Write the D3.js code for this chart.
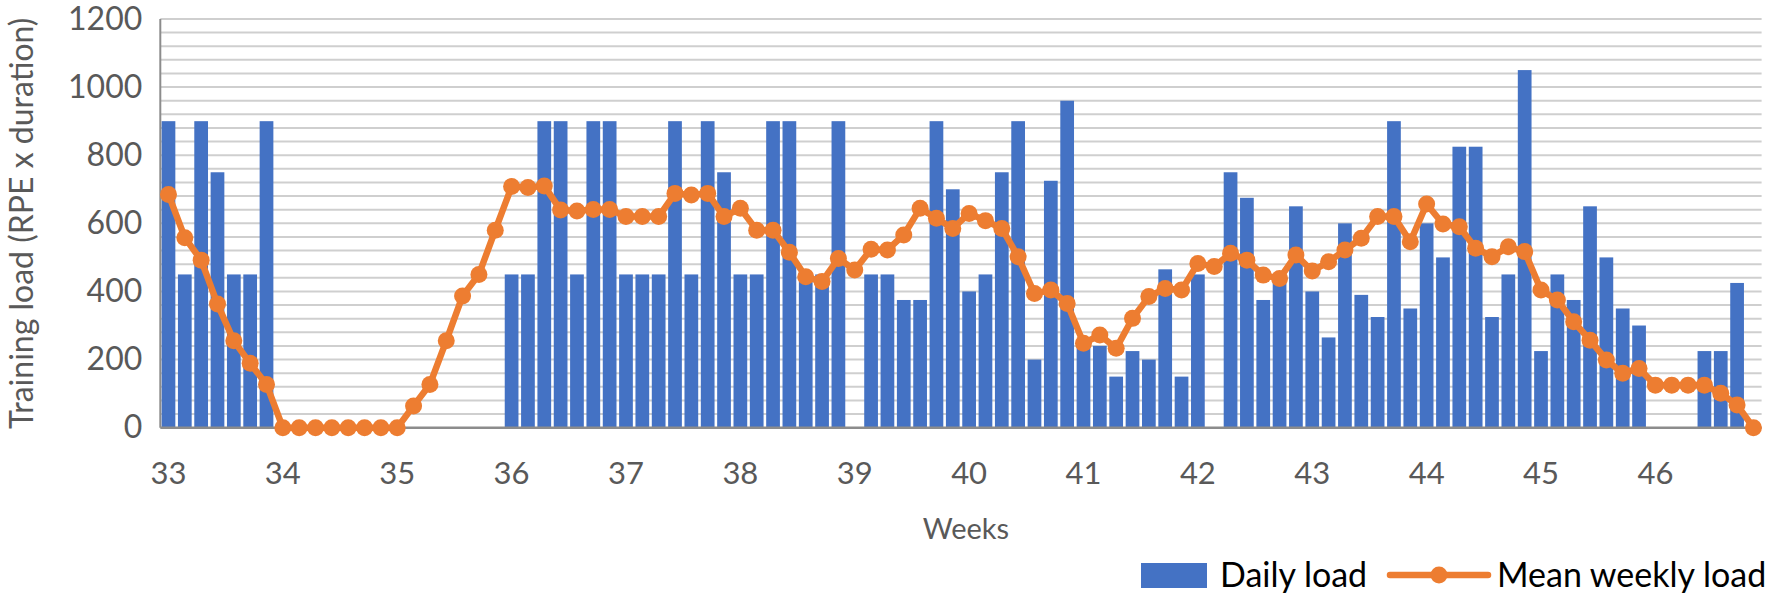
<!DOCTYPE html>
<html>
<head>
<meta charset="utf-8">
<script src="https://cdn.jsdelivr.net/npm/d3@7"></script>
<style>
  html, body { margin: 0; padding: 0; background: #fff; }
  svg { display: block; }
  text { font-family: Lato, "Open Sans", sans-serif; }
</style>
</head>
<body>
<svg id="chart" width="1772" height="600"></svg>
<script>
// ---- data ----
const weekLabels = ["33","34","35","36","37","38","39","40","41","42","43","44","45","46"];
const yTicks = [0, 200, 400, 600, 800, 1000, 1200];

// Daily load, one value per day (7 per week), 0 = no session
const dailyLoad = [
  900, 450, 900, 750, 450, 450, 900,      // wk 33
  0, 0, 0, 0, 0, 0, 0,                    // wk 34
  0, 0, 0, 0, 0, 0, 0,                    // wk 35
  450, 450, 900, 900, 450, 900, 900,      // wk 36
  450, 450, 450, 900, 450, 900, 750,      // wk 37
  450, 450, 900, 900, 450, 450, 900,      // wk 38
  0, 450, 450, 375, 375, 900, 700,        // wk 39
  400, 450, 750, 900, 200, 725, 960,      // wk 40
  240, 240, 150, 225, 200, 465, 150,      // wk 41
  450, 0, 750, 675, 375, 440, 650,        // wk 42
  400, 265, 600, 390, 325, 900, 350,      // wk 43
  600, 500, 825, 825, 325, 450, 1050,     // wk 44
  225, 450, 375, 650, 500, 350, 300,      // wk 45
  0, 0, 0, 225, 225, 425, 0               // wk 46
];

// Mean weekly load (rolling), one value per day
const meanWeeklyLoad = [
  685, 558, 492, 363, 255, 189, 127,
  0, 0, 0, 0, 0, 0, 0,
  0, 64, 127, 255, 387, 450, 580,
  708, 705, 710, 639, 636, 641, 641,
  620, 620, 620, 688, 683, 688, 620,
  644, 580, 580, 515, 443, 429, 497,
  463, 524, 522, 566, 644, 615, 585,
  629, 608, 585, 502, 394, 404, 365,
  248, 272, 233, 321, 385, 409, 404,
  482, 473, 512, 492, 448, 438, 507,
  460, 487, 522, 556, 620, 620, 546,
  657, 598, 590, 527, 502, 531, 517,
  404, 375, 311, 257, 199, 160, 174,
  125, 125, 125, 125, 101, 67, 0
];

const seriesNames = ["Daily load", "Mean weekly load"];

// ---- layout ----
const svg = d3.select("#chart");
const plot = { left: 160.3, right: 1761.6, top: 19, bottom: 427.7 };
const BLUE = "#4472C4", ORANGE = "#ED7D31", TEXT = "#595959";

const days = d3.range(dailyLoad.length);

const x = d3.scaleBand()
  .domain(days)
  .range([plot.left, plot.right])
  .paddingInner(0.16)
  .paddingOuter(0.08);

const y = d3.scaleLinear().domain([0, 1200]).range([plot.bottom, plot.top]);

// gridlines every 40
const grid = svg.append("g");
grid.selectAll("line")
  .data(d3.range(40, 1201, 40))
  .join("line")
  .attr("x1", plot.left).attr("x2", plot.right)
  .attr("y1", d => y(d)).attr("y2", d => y(d))
  .attr("stroke", "#cfcfcf").attr("stroke-width", 2);

// bars
svg.append("g").selectAll("rect")
  .data(days.filter(i => dailyLoad[i] > 0))
  .join("rect")
  .attr("x", i => x(i))
  .attr("width", x.bandwidth())
  .attr("y", i => y(dailyLoad[i]))
  .attr("height", i => y(0) - y(dailyLoad[i]))
  .attr("fill", BLUE);

// axes lines
svg.append("line")
  .attr("x1", plot.left).attr("x2", plot.left)
  .attr("y1", plot.top).attr("y2", plot.bottom)
  .attr("stroke", "#8c8c8c").attr("stroke-width", 2);
svg.append("line")
  .attr("x1", plot.left).attr("x2", plot.right)
  .attr("y1", plot.bottom).attr("y2", plot.bottom)
  .attr("stroke", "#8c8c8c").attr("stroke-width", 2.5);

// line + markers
const cx = i => x(i) + x.bandwidth() / 2;
const line = d3.line().x(i => cx(i)).y(i => y(meanWeeklyLoad[i]));
svg.append("path")
  .datum(days)
  .attr("d", line)
  .attr("fill", "none")
  .attr("stroke", ORANGE)
  .attr("stroke-width", 6.5)
  .attr("stroke-linejoin", "round");
svg.append("g").selectAll("circle")
  .data(days)
  .join("circle")
  .attr("cx", i => cx(i))
  .attr("cy", i => y(meanWeeklyLoad[i]))
  .attr("r", 8.5)
  .attr("fill", ORANGE);

// y axis labels
const yAxis = d3.axisLeft(y).tickValues(yTicks).tickFormat(d3.format("d")).tickSize(0).tickPadding(18);
const gy = svg.append("g").attr("transform", `translate(${plot.left},0)`).call(yAxis);
gy.select(".domain").remove();
gy.selectAll("text").attr("font-size", 32).attr("fill", TEXT)
  .style("font-family", "Lato, 'Open Sans', sans-serif");

// x axis labels (one per week = every 7th day)
const xAxis = d3.axisBottom(x)
  .tickValues(days.filter(i => i % 7 === 0))
  .tickFormat(i => weekLabels[i / 7])
  .tickSize(0).tickPadding(34);
const gx = svg.append("g").attr("transform", `translate(0,${plot.bottom})`).call(xAxis);
gx.select(".domain").remove();
gx.selectAll("text").attr("font-size", 31).attr("fill", TEXT)
  .style("font-family", "Lato, 'Open Sans', sans-serif");

// axis titles
svg.append("text")
  .attr("transform", `translate(33,${(plot.top + plot.bottom) / 2}) rotate(-90)`)
  .attr("text-anchor", "middle")
  .attr("font-size", 32)
  .attr("fill", TEXT)
  .text("Training load (RPE x duration)");

svg.append("text")
  .attr("x", 966).attr("y", 539)
  .attr("text-anchor", "middle")
  .attr("font-size", 29)
  .attr("fill", TEXT)
  .text("Weeks");

// legend
const lg = svg.append("g");
lg.append("rect").attr("x", 1141).attr("y", 563).attr("width", 66).attr("height", 25).attr("fill", BLUE);
lg.append("text").attr("x", 1220).attr("y", 587).attr("font-size", 34).attr("fill", "#000").text(seriesNames[0]);
lg.append("line").attr("x1", 1390).attr("x2", 1488).attr("y1", 575).attr("y2", 575)
  .attr("stroke", ORANGE).attr("stroke-width", 6.5).attr("stroke-linecap", "round");
lg.append("circle").attr("cx", 1439).attr("cy", 575).attr("r", 8.5).attr("fill", ORANGE);
lg.append("text").attr("x", 1497).attr("y", 587).attr("font-size", 34).attr("fill", "#000").text(seriesNames[1]);
</script>
</body>
</html>
